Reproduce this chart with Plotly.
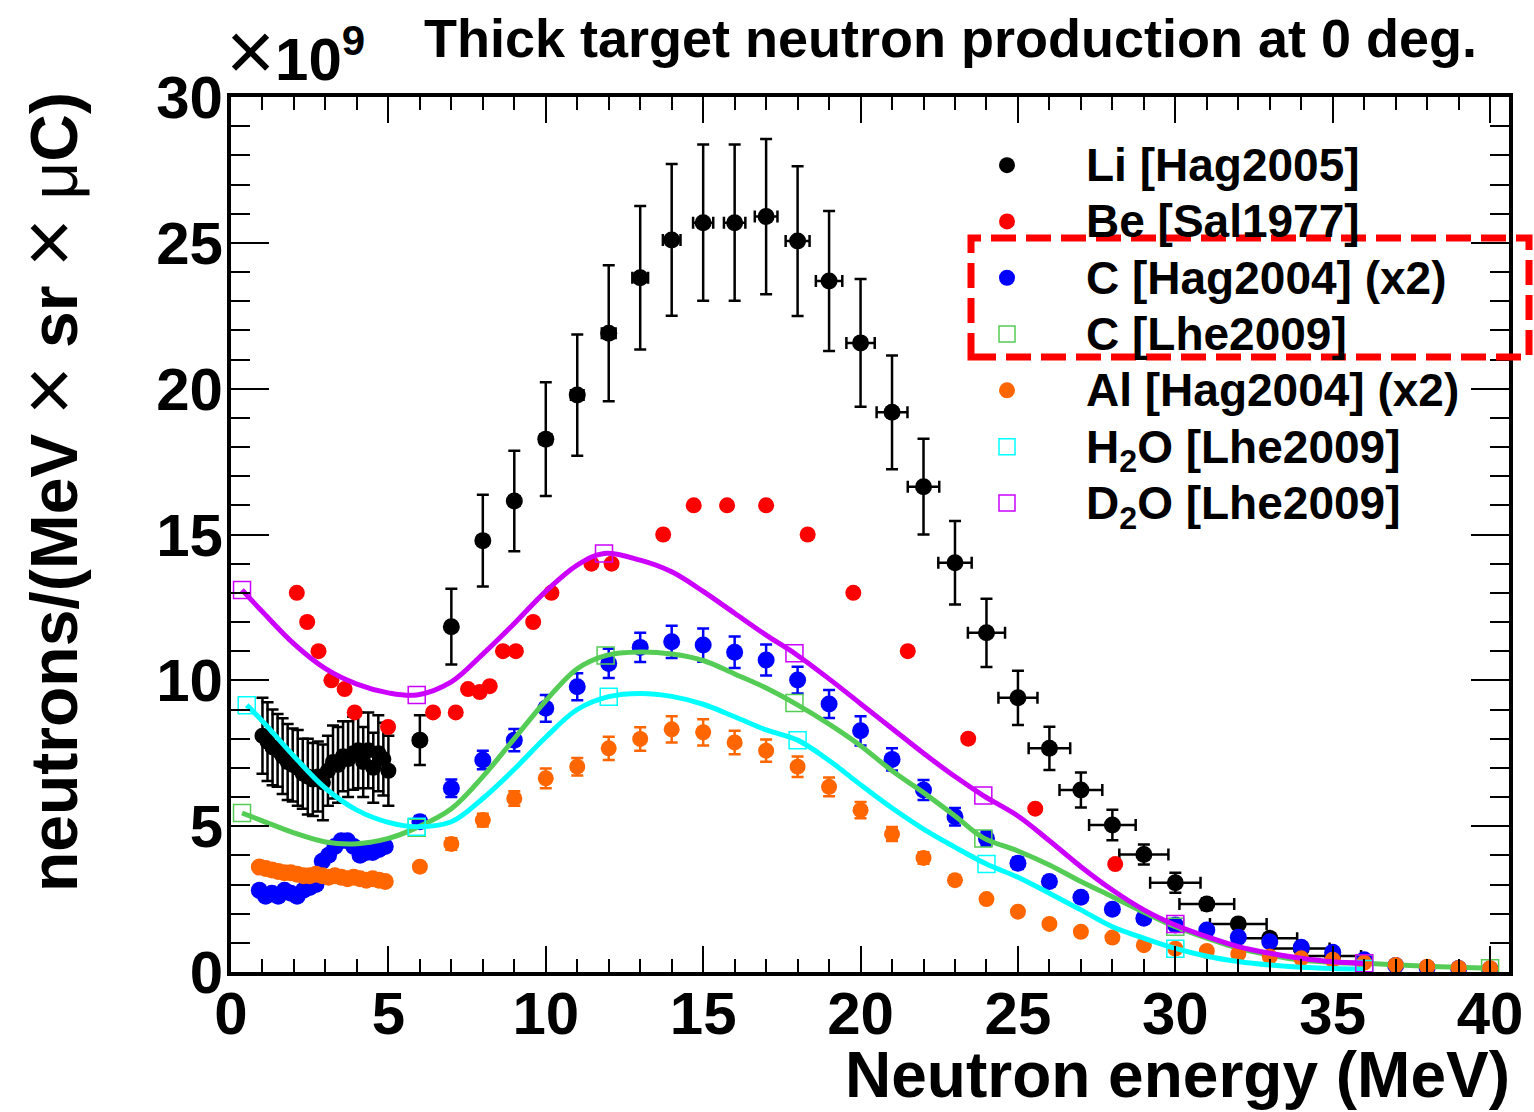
import plotly.graph_objects as go

# ---------------------------------------------------------------
# Thick-target neutron yields at 0 deg, in units of 1e9
# neutrons / (MeV x sr x uC); energies in MeV.
# ---------------------------------------------------------------

# Li [Hag2005]: fine-binned low-energy part
li_low_x = [1.00, 1.16, 1.32, 1.48, 1.64, 1.80, 1.96, 2.12, 2.28, 2.44, 2.60, 2.76, 2.92,
            3.08, 3.24, 3.40, 3.56, 3.72, 3.88, 4.04, 4.20, 4.36, 4.52, 4.68, 4.84, 5.00]
li_low_y = [8.1, 7.9, 7.7, 7.6, 7.4, 7.2, 7.1, 7.0, 6.8, 6.7, 6.6, 6.7, 6.5,
            6.9, 7.2, 7.1, 7.4, 7.3, 7.5, 7.6, 7.2, 7.6, 7.0, 7.5, 7.3, 6.9]
li_low_err = [1.3, 1.35, 1.3, 1.25, 1.3, 1.3, 1.25, 1.3, 1.2, 1.3, 1.25, 1.2, 1.3,
              1.2, 1.25, 1.3, 1.2, 1.3, 1.25, 1.3, 1.2, 1.3, 1.2, 1.3, 1.25, 1.2]

# Li [Hag2005]: 1 MeV bins
li_x = [6, 7, 8, 9, 10, 11, 12, 13, 14, 15, 16, 17, 18, 19, 20,
        21, 22, 23, 24, 25, 26, 27, 28, 29, 30, 31, 32, 33, 34, 35]
li_y = [7.95, 11.84, 14.79, 16.15, 18.27, 19.78, 21.9, 23.8, 25.1, 25.69, 25.69, 25.9, 25.06, 23.69, 21.57,
        19.19, 16.64, 14.03, 11.63, 9.4, 7.67, 6.24, 5.04, 4.03, 3.06, 2.33, 1.65, 1.16, 0.81, 0.55]
li_yerr = [0.85, 1.3, 1.57, 1.72, 1.95, 2.08, 2.33, 2.46, 2.6, 2.68, 2.68, 2.66, 2.57, 2.4, 2.19,
           1.95, 1.64, 1.43, 1.17, 0.93, 0.74, 0.6, 0.52, 0.34, 0.34, 0.2, 0.15, 0.1, 0.08, 0.06]
li_xerr = [0.1, 0.12, 0.14, 0.16, 0.18, 0.2, 0.22, 0.25, 0.28, 0.32, 0.34, 0.36, 0.38, 0.42, 0.45,
           0.49, 0.5, 0.53, 0.59, 0.62, 0.66, 0.68, 0.74, 0.78, 0.8, 0.87, 0.9, 0.87, 0.9, 0.9]

# Be [Sal1977]
be_x = [2.09, 2.42, 2.78, 3.19, 3.61, 3.93, 4.99, 6.42, 7.14, 7.53, 7.9, 8.22, 8.64, 9.05,
        9.6, 10.18, 11.45, 12.09, 13.73, 14.7, 15.76, 17.0, 18.32, 19.77, 21.5, 23.42, 25.55, 28.09]
be_y = [13.0, 12.0, 11.0, 10.0, 9.7, 8.9, 8.4, 8.9, 8.9, 9.7, 9.6, 9.8, 11.0, 11.0,
        12.0, 13.0, 14.0, 14.0, 15.0, 16.0, 16.0, 16.0, 15.0, 13.0, 11.0, 8.0, 5.6, 3.7]

# C [Hag2004] (x2): low-energy part and 1 MeV bins
c_low_x = [0.9, 1.1, 1.3, 1.5, 1.7, 1.9, 2.1, 2.3, 2.5, 2.7, 2.9,
           3.1, 3.3, 3.5, 3.7, 3.9, 4.1, 4.3, 4.5, 4.7, 4.9]
c_low_y = [2.8, 2.6, 2.7, 2.6, 2.8, 2.7, 2.6, 2.8, 2.9, 3.0, 3.8,
           4.0, 4.3, 4.5, 4.5, 4.3, 4.0, 4.1, 4.1, 4.2, 4.3]
c_x = [6, 7, 8, 9, 10, 11, 12, 13, 14, 15, 16, 17, 18, 19, 20, 21, 22, 23,
       24, 25, 26, 27, 28, 29, 30, 31, 32, 33, 34, 35, 36, 37, 38, 39, 40]
c_y = [5.15, 6.3, 7.27, 7.95, 9.04, 9.78, 10.58, 11.13, 11.32, 11.21, 10.96, 10.7, 10.01, 9.19, 8.27, 7.29, 6.24, 5.32,
       4.58, 3.73, 3.1, 2.56, 2.15, 1.84, 1.61, 1.44, 1.19, 1.04, 0.85, 0.68, 0.42, 0.22, 0.15, 0.12, 0.1]
c_err = [0.2, 0.3, 0.32, 0.38, 0.46, 0.46, 0.5, 0.5, 0.55, 0.57, 0.54, 0.53, 0.46, 0.48, 0.5, 0.38, 0.34, 0.3,
         0.25, 0.2, 0.18, 0.15, 0.13, 0.12, 0.1, 0.1, 0.08, 0.08, 0.07, 0.06, 0.05, 0.04, 0.03, 0.03, 0.03]

# Al [Hag2004] (x2): low-energy part and 1 MeV bins
al_low_x = [0.9, 1.1, 1.3, 1.5, 1.7, 1.9, 2.1, 2.3, 2.5, 2.7, 2.9,
            3.1, 3.3, 3.5, 3.7, 3.9, 4.1, 4.3, 4.5, 4.7, 4.9]
al_low_y = [3.6, 3.55, 3.5, 3.45, 3.4, 3.4, 3.35, 3.3, 3.3, 3.35, 3.3,
            3.25, 3.3, 3.25, 3.2, 3.25, 3.2, 3.15, 3.2, 3.15, 3.1]
al_x = c_x
al_y = [3.61, 4.39, 5.21, 5.95, 6.64, 7.04, 7.67, 7.99, 8.32, 8.22, 7.87, 7.59, 7.04, 6.35, 5.55, 4.73, 3.91, 3.15,
        2.5, 2.07, 1.65, 1.38, 1.18, 0.92, 0.8, 0.72, 0.62, 0.53, 0.47, 0.42, 0.32, 0.24, 0.18, 0.14, 0.13]
al_err = [0.15, 0.2, 0.22, 0.25, 0.34, 0.3, 0.4, 0.4, 0.45, 0.45, 0.4, 0.38, 0.35, 0.32, 0.28, 0.24, 0.2, 0.16,
          0.12, 0.1, 0.08, 0.07, 0.06, 0.05, 0.04, 0.04, 0.03, 0.03, 0.03, 0.03, 0.02, 0.02, 0.02, 0.02, 0.02]

# [Lhe2009] measured points (6 MeV steps) and the smooth curves through them
clhe_x = [0.35, 5.9, 11.9, 17.9, 23.9, 30.0, 36.0, 40.0]
clhe_y = [5.45, 4.95, 10.85, 9.22, 4.58, 1.55, 0.3, 0.13]
clhe_curve_x = [0.35, 1, 2, 3, 4, 5, 5.9, 7, 8, 9, 10, 11, 11.9, 13, 14, 15, 16, 17, 17.9, 19, 20,
                21, 22, 23, 23.9, 25, 26, 27, 28, 29, 30, 31, 32, 33, 34, 35, 36, 37, 38, 39, 40]
clhe_curve_y = [5.45, 5.18, 4.77, 4.46, 4.4, 4.58, 4.95, 5.6, 6.7, 8.0, 9.3, 10.4, 10.85, 10.97, 10.9, 10.68,
                10.22, 9.74, 9.22, 8.5, 7.76, 6.9, 6.15, 5.35, 4.6, 4.15, 3.67, 3.1, 2.58, 2.05, 1.55, 1.16,
                0.81, 0.58, 0.41, 0.33, 0.3, 0.25, 0.2, 0.16, 0.13]

h2o_x = [0.5, 5.9, 12.0, 18.0, 24.0, 30.0, 36.0]
h2o_y = [9.15, 4.98, 9.44, 7.95, 3.7, 0.8, 0.1]
h2o_curve_x = [0.5, 1, 2, 3, 4, 5, 5.9, 7, 8, 9, 10, 11, 12, 13, 14, 15, 16, 17, 18, 19, 20,
               21, 22, 23, 24, 25, 26, 27, 28, 29, 30, 31, 32, 33, 34, 35, 36]
h2o_curve_y = [9.15, 8.6, 7.4, 6.3, 5.55, 5.13, 4.98, 5.15, 5.95, 6.95, 8.05, 9.0, 9.44, 9.55, 9.45, 9.18,
               8.75, 8.3, 7.95, 7.25, 6.42, 5.62, 4.9, 4.28, 3.7, 3.25, 2.7, 2.13, 1.55, 1.16, 0.81, 0.54,
               0.36, 0.24, 0.16, 0.12, 0.1]

d2o_x = [0.35, 5.9, 11.85, 17.9, 23.9, 30.0, 36.0]
d2o_y = [13.1, 9.5, 14.35, 10.93, 6.05, 1.65, 0.3]
d2o_curve_x = [0.35, 1, 2, 3, 4, 5, 5.9, 7, 8, 9, 10, 11, 11.85, 13, 14, 15, 16, 17, 17.9, 19, 20,
               21, 22, 23, 23.9, 25, 26, 27, 28, 29, 30, 31, 32, 33, 34, 35, 36]
d2o_curve_y = [13.1, 12.35, 11.25, 10.4, 9.87, 9.57, 9.5, 9.95, 10.9, 11.95, 13.05, 13.95, 14.35, 14.12,
               13.72, 13.05, 12.3, 11.55, 10.93, 10.05, 9.2, 8.35, 7.5, 6.7, 6.05, 5.35, 4.5, 3.61, 2.81,
               2.13, 1.61, 1.21, 0.87, 0.64, 0.47, 0.35, 0.3]

FONT = "Liberation Sans"
BLACK, RED, BLUE = "#000000", "#ff0000", "#0000ff"
GREEN, ORANGE, CYAN, MAGENTA = "#55cc55", "#ff6600", "#00ffff", "#cc00ff"


def leg(name):
    return '<span style="font-size:46px">' + name + '</span>'


def errs(arr, color):
    return dict(type="data", array=arr, color=color, thickness=2.5, width=6, visible=True)


fig = go.Figure()

# Li
fig.add_trace(go.Scatter(x=li_low_x, y=li_low_y, mode="markers", showlegend=False,
                         marker=dict(color=BLACK, size=16), error_y=errs(li_low_err, BLACK)))
fig.add_trace(go.Scatter(x=li_x, y=li_y, mode="markers", name=leg("Li [Hag2005]"),
                         marker=dict(color=BLACK, size=17),
                         error_y=errs(li_yerr, BLACK), error_x=errs(li_xerr, BLACK)))
# Be
fig.add_trace(go.Scatter(x=be_x, y=be_y, mode="markers", name=leg("Be [Sal1977]"),
                         marker=dict(color=RED, size=16)))
# C [Hag2004]
fig.add_trace(go.Scatter(x=c_low_x, y=c_low_y, mode="markers", showlegend=False,
                         marker=dict(color=BLUE, size=17)))
fig.add_trace(go.Scatter(x=c_x, y=c_y, mode="markers", name=leg("C [Hag2004] (x2)"),
                         marker=dict(color=BLUE, size=17), error_y=errs(c_err, BLUE)))
# C [Lhe2009]
fig.add_trace(go.Scatter(x=clhe_curve_x, y=clhe_curve_y, mode="lines", showlegend=False,
                         line=dict(color=GREEN, width=5, shape="spline", smoothing=1.0)))
fig.add_trace(go.Scatter(x=clhe_x, y=clhe_y, mode="markers", name=leg("C [Lhe2009]"),
                         marker=dict(symbol="square-open", color=GREEN, size=17, line=dict(width=1.5))))
# Al [Hag2004]
fig.add_trace(go.Scatter(x=al_low_x, y=al_low_y, mode="markers", showlegend=False,
                         marker=dict(color=ORANGE, size=17)))
fig.add_trace(go.Scatter(x=al_x, y=al_y, mode="markers", name=leg("Al [Hag2004] (x2)"),
                         marker=dict(color=ORANGE, size=16), error_y=errs(al_err, ORANGE)))
# H2O
fig.add_trace(go.Scatter(x=h2o_curve_x, y=h2o_curve_y, mode="lines", showlegend=False,
                         line=dict(color=CYAN, width=5, shape="spline", smoothing=1.0)))
fig.add_trace(go.Scatter(x=h2o_x, y=h2o_y, mode="markers", name=leg("H<sub>2</sub>O [Lhe2009]"),
                         marker=dict(symbol="square-open", color=CYAN, size=17, line=dict(width=1.5))))
# D2O
fig.add_trace(go.Scatter(x=d2o_curve_x, y=d2o_curve_y, mode="lines", showlegend=False,
                         line=dict(color=MAGENTA, width=5, shape="spline", smoothing=1.0)))
fig.add_trace(go.Scatter(x=d2o_x, y=d2o_y, mode="markers", name=leg("D<sub>2</sub>O [Lhe2009]"),
                         marker=dict(symbol="square-open", color=MAGENTA, size=17, line=dict(width=1.5))))

W, H = 1534, 1112
L, R, T, B = 231, 25, 97, 140
PW, PH = W - L - R, H - T - B


def px(x):
    return (x - L) / PW


def py(y):
    return (H - B - y) / PH


axis_common = dict(showgrid=False, zeroline=False, showline=True, linewidth=4, linecolor=BLACK,
                   mirror="ticks", ticks="inside", tickwidth=2, tickcolor=BLACK,
                   tickfont=dict(family=FONT, size=60, color=BLACK, weight="bold"))

fig.update_layout(
    width=W, height=H,
    margin=dict(l=L, r=R, t=T, b=B, pad=0),
    paper_bgcolor="white", plot_bgcolor="white",
    font=dict(family=FONT, color=BLACK),
    xaxis=dict(range=[0, 40.6], tick0=0, dtick=5, ticklen=26, ticklabelstandoff=-14,
               minor=dict(dtick=1, ticks="inside", ticklen=13, tickwidth=2, tickcolor=BLACK),
               **axis_common),
    yaxis=dict(range=[0, 30], tick0=0, dtick=5, ticklen=38, ticklabelstandoff=-8,
               minor=dict(dtick=1, ticks="inside", ticklen=19, tickwidth=2, tickcolor=BLACK),
               **axis_common),
    showlegend=True,
    legend=dict(x=px(928), y=py(132), xanchor="left", yanchor="top",
                bgcolor="rgba(0,0,0,0)", borderwidth=0, itemwidth=148,
                font=dict(family=FONT, size=41, color=BLACK, weight="bold"),
                traceorder="normal"),
)

BIGX = '<span style="font-size:84px">×</span>'
annotations = [
    dict(text="<b>Thick target neutron production at 0 deg.</b>", x=px(950), y=py(38),
         xanchor="center", yanchor="middle", font=dict(size=54)),
    dict(text=BIGX + "<b>10<sup>9</sup></b>", x=px(224), y=py(100), xanchor="left", yanchor="bottom",
         font=dict(size=60)),
    dict(text="<b>Neutron energy (MeV)</b>", x=px(1512), y=py(1075), xanchor="right",
         yanchor="middle", font=dict(size=64)),
    dict(text="<b>neutrons/(MeV </b>" + BIGX + "<b> sr </b>" + BIGX + "<b> </b>μ<b>C)</b>",
         textangle=-90, x=px(48), y=py(90), xanchor="center", yanchor="top", font=dict(size=66)),
]
for a in annotations:
    a.update(xref="paper", yref="paper", showarrow=False)
    a["font"] = dict(family=FONT, color=BLACK, **a["font"])
fig.update_layout(annotations=annotations)

# dashed frame around the two carbon entries of the legend
fig.add_shape(type="rect", xref="paper", yref="paper",
              x0=px(971), x1=px(1529), y0=py(357), y1=py(238),
              line=dict(color=RED, width=7, dash="25px,10px"))

fig.write_html("out.html")
